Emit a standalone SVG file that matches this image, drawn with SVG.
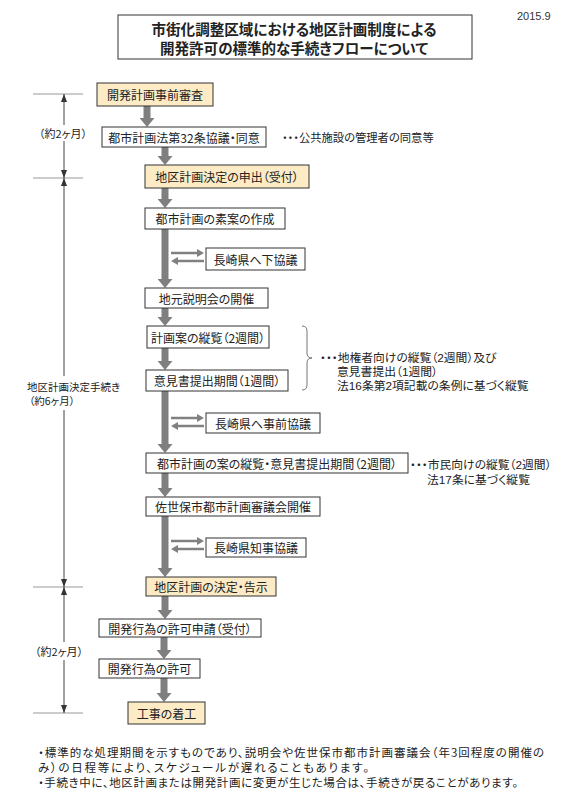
<svg xmlns="http://www.w3.org/2000/svg" width="573" height="800" viewBox="0 0 573 800">
<style>
text{font-family:"Noto Sans CJK JP","Noto Sans",sans-serif;fill:#222;font-feature-settings:"palt"}
.box{fill:#fff;stroke:#333;stroke-width:1}
.hl{fill:#fcebc5;stroke:#333;stroke-width:1}
.bt{font-size:12px;text-anchor:middle;dominant-baseline:central}
.title{font-size:14.5px;font-weight:bold;text-anchor:middle;dominant-baseline:central}
.note{font-size:11px;dominant-baseline:central}
.sn{font-family:"Liberation Sans","Noto Sans CJK JP",sans-serif;font-size:11.8px;dominant-baseline:central}
.foot{font-size:11.5px;dominant-baseline:central}
.flow{stroke:#7f7f7f;stroke-width:7;fill:none}
.side{stroke:#808080;stroke-width:2.5;fill:none}
.tl{stroke:#444;stroke-width:1;fill:none}
.tick{stroke:#999;stroke-width:1}
.brace{stroke:#777;stroke-width:1;fill:none}
</style>
<defs>
<marker id="fh" viewBox="0 0 9 15" refX="0" refY="7.5" markerWidth="9" markerHeight="15" markerUnits="userSpaceOnUse" orient="auto"><path d="M0,0 L9,7.5 L0,15 z" fill="#7f7f7f"/></marker>
<marker id="sh" viewBox="0 0 7 8" refX="1" refY="4" markerWidth="7" markerHeight="8" markerUnits="userSpaceOnUse" orient="auto"><path d="M0,0 L7,4 L0,8 z" fill="#808080"/></marker>
<marker id="th" viewBox="0 0 8 6" refX="8" refY="3" markerWidth="8" markerHeight="6" markerUnits="userSpaceOnUse" orient="auto"><path d="M0,0 L8,3 L0,6 z" fill="#333"/></marker>
</defs>

<text x="517" y="16" style="font-family:'Liberation Sans',sans-serif;font-size:11px;dominant-baseline:central;fill:#333">2015.9</text>

<g id="title">
<rect x="118" y="15" width="354" height="44" class="box"/>
<text x="294" y="28.5" class="title" textLength="285" lengthAdjust="spacingAndGlyphs">市街化調整区域における地区計画制度による</text>
<text x="294" y="47.5" class="title" textLength="268" lengthAdjust="spacingAndGlyphs">開発許可の標準的な手続きフローについて</text>
</g>

<g id="timeline">
<line x1="33" y1="94" x2="83" y2="94" class="tick"/>
<line x1="33" y1="178" x2="83" y2="178" class="tick"/>
<line x1="33" y1="587" x2="83" y2="587" class="tick"/>
<line x1="33" y1="713" x2="83" y2="713" class="tick"/>
<line x1="64" y1="125" x2="64" y2="94" class="tl" marker-end="url(#th)"/>
<line x1="64" y1="141" x2="64" y2="178" class="tl" marker-end="url(#th)"/>
<text x="63" y="133" class="note" text-anchor="middle">（約2ヶ月）</text>
<line x1="64" y1="376" x2="64" y2="178" class="tl" marker-end="url(#th)"/>
<line x1="64" y1="410" x2="64" y2="587" class="tl" marker-end="url(#th)"/>
<text class="note" style="font-size:10.5px"><tspan x="27" y="386">地区計画決定手続き</tspan><tspan x="29" y="400">（約6ヶ月）</tspan></text>
<line x1="64" y1="642" x2="64" y2="587" class="tl" marker-end="url(#th)"/>
<line x1="64" y1="660" x2="64" y2="713" class="tl" marker-end="url(#th)"/>
<text x="59" y="651" class="note" text-anchor="middle">（約2ヶ月）</text>
</g>

<g id="connectors">
<line x1="147" y1="106" x2="147" y2="118" class="flow" marker-end="url(#fh)"/>
<line x1="165" y1="147" x2="165" y2="156" class="flow" marker-end="url(#fh)"/>
<line x1="165" y1="188" x2="165" y2="199" class="flow" marker-end="url(#fh)"/>
<line x1="165" y1="229" x2="165" y2="279" class="flow" marker-end="url(#fh)"/>
<line x1="165" y1="308" x2="165" y2="317" class="flow" marker-end="url(#fh)"/>
<line x1="165" y1="348" x2="165" y2="361" class="flow" marker-end="url(#fh)"/>
<line x1="165" y1="391" x2="165" y2="444" class="flow" marker-end="url(#fh)"/>
<line x1="165" y1="473" x2="165" y2="488" class="flow" marker-end="url(#fh)"/>
<line x1="165" y1="516" x2="165" y2="568" class="flow" marker-end="url(#fh)"/>
<line x1="165" y1="596" x2="165" y2="610" class="flow" marker-end="url(#fh)"/>
<line x1="164" y1="637" x2="164" y2="650" class="flow" marker-end="url(#fh)"/>
<line x1="164" y1="678" x2="164" y2="693" class="flow" marker-end="url(#fh)"/>
<line x1="171" y1="253" x2="198" y2="253" class="side" marker-end="url(#sh)"/>
<line x1="204" y1="261" x2="177" y2="261" class="side" marker-end="url(#sh)"/>
<line x1="171" y1="418" x2="198" y2="418" class="side" marker-end="url(#sh)"/>
<line x1="204" y1="426" x2="177" y2="426" class="side" marker-end="url(#sh)"/>
<line x1="171" y1="541" x2="198" y2="541" class="side" marker-end="url(#sh)"/>
<line x1="204" y1="549" x2="177" y2="549" class="side" marker-end="url(#sh)"/>
<path d="M302,326 Q307,326 307,331 L307,353 Q307,358 312,358 Q307,358 307,363 L307,385 Q307,390 302,390" class="brace"/>
</g>

<g id="n1"><rect x="97" y="83" width="116" height="23" class="hl"/><text x="155" y="94.5" class="bt">開発計画事前審査</text></g>
<g id="n2"><rect x="102" y="127" width="164" height="20" class="box"/><text x="184" y="137" class="bt">都市計画法第32条協議・同意</text></g>
<text x="282" y="137" class="note" style="font-size:11.3px">・・・公共施設の管理者の同意等</text>
<g id="n3"><rect x="145" y="165" width="164" height="23" class="hl"/><text x="227" y="176.5" class="bt">地区計画決定の申出（受付）</text></g>
<g id="n4"><rect x="145" y="208" width="140" height="21" class="box"/><text x="215" y="218.5" class="bt">都市計画の素案の作成</text></g>
<g id="n5"><rect x="206" y="248" width="99" height="22" class="box"/><text x="255.5" y="259" class="bt">長崎県へ下協議</text></g>
<g id="n6"><rect x="145" y="288" width="123" height="20" class="box"/><text x="206.5" y="298" class="bt">地元説明会の開催</text></g>
<g id="n7"><rect x="147" y="326" width="122" height="22" class="box"/><text x="208" y="337" class="bt">計画案の縦覧（2週間）</text></g>
<g id="n8"><rect x="146" y="370" width="142" height="21" class="box"/><text x="217" y="380.5" class="bt">意見書提出期間（1週間）</text></g>
<text class="sn"><tspan x="320" y="358">・・・地権者向けの縦覧（2週間）及び</tspan><tspan x="337" y="372">意見書提出（1週間）</tspan><tspan x="337" y="386">法16条第2項記載の条例に基づく縦覧</tspan></text>
<g id="n9"><rect x="206" y="413" width="114" height="20" class="box"/><text x="263" y="423" class="bt">長崎県へ事前協議</text></g>
<g id="n10"><rect x="146" y="453" width="262" height="20" class="box"/><text x="277" y="463" class="bt">都市計画の案の縦覧・意見書提出期間（2週間）</text></g>
<text class="sn"><tspan x="410" y="465">・・・市民向けの縦覧（2週間）</tspan><tspan x="427" y="480">法17条に基づく縦覧</tspan></text>
<g id="n11"><rect x="146" y="497" width="174" height="19" class="box"/><text x="233" y="506.5" class="bt">佐世保市都市計画審議会開催</text></g>
<g id="n12"><rect x="206" y="538" width="100" height="19" class="box"/><text x="256" y="547.5" class="bt">長崎県知事協議</text></g>
<g id="n13"><rect x="146" y="577" width="130" height="19" class="hl"/><text x="211" y="586.5" class="bt">地区計画の決定・告示</text></g>
<g id="n14"><rect x="99" y="619" width="162" height="18" class="box"/><text x="180" y="628" class="bt">開発行為の許可申請（受付）</text></g>
<g id="n15"><rect x="99" y="659" width="101" height="19" class="box"/><text x="149.5" y="668.5" class="bt">開発行為の許可</text></g>
<g id="n16"><rect x="128" y="702" width="77" height="22" class="hl"/><text x="166.5" y="713" class="bt">工事の着工</text></g>

<g id="footnotes">
<text x="38" y="752" class="foot" textLength="506" lengthAdjust="spacing">・標準的な処理期間を示すものであり、説明会や佐世保市都市計画審議会（年3回程度の開催の</text>
<text x="38" y="767" class="foot" textLength="331" lengthAdjust="spacing">み）の日程等により、スケジュールが遅れることもあります。</text>
<text x="38" y="782" class="foot" textLength="480" lengthAdjust="spacing">・手続き中に、地区計画または開発計画に変更が生じた場合は、手続きが戻ることがあります。</text>
</g>
</svg>
